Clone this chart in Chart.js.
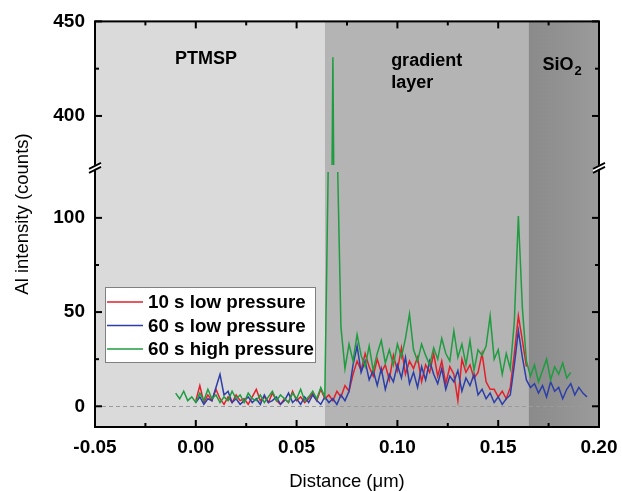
<!DOCTYPE html>
<html>
<head>
<meta charset="utf-8">
<script src="https://cdn.jsdelivr.net/npm/chart.js@4.4.0/dist/chart.umd.min.js"></script>
<style>
  html, body { margin: 0; padding: 0; background: #fff; }
  canvas { display: block; }
</style>
</head>
<body>
<canvas id="alChart" width="622" height="491"></canvas>
<script>
// sampling of the depth profiles (um)
const step = 0.002;
const redStart = 0.000;
const blueStart = 0.000;
const greenStart = -0.010;

// Al counts
const red10sLow = [
  3, 11, 2, 6, 3, 9, 4, 1, 5, 2, 6, 3, 4, 1, 5, 9, 3, 5, 2, 7,
  3, 1, 4, 2, 8, 3, 5, 2, 4, 7, 3, 9, 4, 6, 3, 8, 5, 11, 8, 17,
  24, 19, 28, 21, 16, 25, 18, 22, 14, 27, 19, 31, 17, 24, 20, 26, 13, 22, 18, 28,
  16, 24, 12, 21, 17, 3, 25, 18, 22, 15, 18, 28, 13, 9, 9, 5, 8, 4, 10, 28,
  48, 35, 21
];
const blue60sLow = [
  2, 5, 1, 4, 3, 10, 17, 6, 8, 2, 4, 1, 3, 5, 2, 4, 1, 6, 2, 3,
  5, 1, 3, 7, 2, 4, 1, 5, 2, 6, 3, 1, 5, 2, 4, 1, 6, 3, 8, 22,
  32, 18, 24, 14, 19, 11, 20, 9, 17, 13, 22, 15, 26, 12, 18, 10, 21, 14, 24, 17,
  12, 20, 9, 16, 13, 19, 8, 15, 11, 17, 6, 9, 4, 7, 2, 5, 1, 4, 6, 22,
  40, 26, 14, 10, 12, 7, 11, 5, 13, 8, 10, 4, 9, 12, 6, 10, 7, 5
];
const green60sHigh = [
  7, 4, 8, 3, 5, 2, 7, 3, 9, 4, 6, 2, 5, 3, 8, 4, 6, 2, 7, 4,
  3, 6, 2, 5, 8, 3, 6, 4, 2, 7, 4, 9, 3, 5, 8, 4, 10, 5, 150, 431,
  145, 42, 20, 33, 24, 38, 27, 21, 32, 19, 28, 35, 23, 30, 22, 33, 26, 36, 49, 30,
  24, 33, 27, 22, 31, 25, 36, 28, 24, 40, 26, 33, 22, 35, 19, 30, 27, 32, 48, 25,
  30, 17, 28, 20, 45, 101, 52, 24, 16, 22, 13, 19, 25, 14, 21, 17, 23, 15, 18
];

const seriesLabels = ['10 s low pressure', '60 s low pressure', '60 s high pressure'];
const seriesColors = ['#e3202a', '#2c3ea8', '#1f9c40'];

// layer boundaries along the distance axis
const regionEdges = [-0.05, 0.064, 0.165, 0.20];
const regionColors = ['#dadada', '#b4b4b4', '#8d8d8d'];

const xTicks = [-0.05, 0, 0.05, 0.10, 0.15, 0.20];
const xMinor = [-0.025, 0.025, 0.075, 0.125, 0.175];
const yLowTicks = [0, 50, 100];
const yLowMinor = [25, 75];
const yHighTicks = [400, 450];
const yHighMinor = [425];

const FONT = '"Liberation Sans", Arial, Helvetica, sans-serif';

function toPoints(start, values) {
  return values.map((v, i) => ({ x: +(start + i * step).toFixed(3), y: v }));
}

function lineSet(label, color, data, axis, order) {
  return {
    label: label,
    data: data,
    yAxisID: axis,
    borderColor: color,
    borderWidth: 1.5,
    pointRadius: 0,
    tension: 0,
    fill: false,
    order: order,
  };
}

const breakPlugin = {
  id: 'brokenAxis',
  beforeDatasetsDraw(chart) {
    const { ctx, chartArea: a, scales } = chart;
    const x = scales.x;
    ctx.save();
    for (let i = 0; i < 3; i++) {
      const x0 = x.getPixelForValue(regionEdges[i]);
      const x1 = x.getPixelForValue(regionEdges[i + 1]);
      if (i === 2) {
        const g = ctx.createLinearGradient(x0, 0, x1, 0);
        g.addColorStop(0, '#8a8a8a');
        g.addColorStop(1, '#9b9b9b');
        ctx.fillStyle = g;
      } else {
        ctx.fillStyle = regionColors[i];
      }
      ctx.fillRect(x0, a.top, x1 - x0, a.bottom - a.top);
    }
    // dashed zero line
    const y0 = Math.round(scales.y.getPixelForValue(0)) + 0.5;
    ctx.strokeStyle = '#9a9a9a';
    ctx.lineWidth = 1;
    ctx.setLineDash([4, 3]);
    ctx.beginPath();
    ctx.moveTo(a.left, y0);
    ctx.lineTo(a.right, y0);
    ctx.stroke();
    ctx.restore();
  },
  beforeDatasetDraw(chart, args) {
    const { ctx, chartArea: a, scales } = chart;
    const s = scales[args.meta.yAxisID];
    let top = s.top, bottom = s.bottom;
    if (args.meta.yAxisID === 'y') top += 3;
    else bottom -= 4;
    ctx.save();
    ctx.beginPath();
    ctx.rect(a.left, top, a.right - a.left, bottom - top);
    ctx.clip();
  },
  afterDatasetDraw(chart) {
    chart.ctx.restore();
  },
  afterDraw(chart) {
    const { ctx, chartArea: a, scales } = chart;
    const x = scales.x, yl = scales.y, yh = scales.y2;
    ctx.save();

    // frame
    ctx.strokeStyle = '#000';
    ctx.lineWidth = 2;
    ctx.strokeRect(a.left, a.top, a.right - a.left, a.bottom - a.top);

    // inward ticks
    const tick = (x1, y1, x2, y2) => {
      ctx.beginPath(); ctx.moveTo(x1, y1); ctx.lineTo(x2, y2); ctx.stroke();
    };
    xTicks.forEach(v => {
      const p = x.getPixelForValue(v);
      tick(p, a.bottom, p, a.bottom - 7);
      tick(p, a.top, p, a.top + 7);
    });
    xMinor.forEach(v => {
      const p = x.getPixelForValue(v);
      tick(p, a.bottom, p, a.bottom - 4);
      tick(p, a.top, p, a.top + 4);
    });
    const yTick = (s, v, len) => {
      const p = s.getPixelForValue(v);
      tick(a.left, p, a.left + len, p);
      tick(a.right, p, a.right - len, p);
    };
    yLowTicks.forEach(v => yTick(yl, v, 7));
    yLowMinor.forEach(v => yTick(yl, v, 4));
    yHighTicks.forEach(v => yTick(yh, v, 7));
    yHighMinor.forEach(v => yTick(yh, v, 4));

    // axis break marks
    const yb = yl.top;
    [a.left, a.right].forEach(xb => {
      ctx.fillStyle = '#fff';
      ctx.beginPath();
      ctx.moveTo(xb - 6, yb + 3);
      ctx.lineTo(xb + 6, yb - 3);
      ctx.lineTo(xb + 6, yb - 7);
      ctx.lineTo(xb - 6, yb - 1);
      ctx.closePath();
      ctx.fill();
      ctx.lineWidth = 1.8;
      tick(xb - 6, yb + 4, xb + 6, yb - 2);
      tick(xb - 6, yb, xb + 6, yb - 6);
    });

    // axis titles
    ctx.fillStyle = '#000';
    ctx.font = '18.5px ' + FONT;
    ctx.textAlign = 'center';
    ctx.textBaseline = 'alphabetic';
    ctx.fillText('Distance (\u03bcm)', (a.left + a.right) / 2, 487);
    ctx.save();
    ctx.translate(28, 214);
    ctx.rotate(-Math.PI / 2);
    ctx.fillText('Al intensity (counts)', 0, 0);
    ctx.restore();

    // layer names
    ctx.font = 'bold 18px ' + FONT;
    const mid = i => x.getPixelForValue((regionEdges[i] + regionEdges[i + 1]) / 2);
    ctx.fillText('PTMSP', mid(0) - 4, a.top + 43);
    ctx.textAlign = 'left';
    const gl = mid(1) - ctx.measureText('gradient').width / 2;
    ctx.fillText('gradient', gl, a.top + 45);
    ctx.fillText('layer', gl, a.top + 67);
    const w1 = ctx.measureText('SiO').width;
    ctx.font = 'bold 13px ' + FONT;
    const w2 = ctx.measureText('2').width;
    const sx = mid(2) - (w1 + w2) / 2 - 2;
    ctx.fillText('2', sx + w1 + 1, a.top + 54);
    ctx.font = 'bold 18px ' + FONT;
    ctx.fillText('SiO', sx, a.top + 49);

    // legend box
    const lx = a.left + 10, ly = 287, lw = 210, lh = 75;
    ctx.fillStyle = '#fff';
    ctx.fillRect(lx, ly, lw, lh);
    ctx.strokeStyle = '#808080';
    ctx.lineWidth = 1;
    ctx.strokeRect(lx + 0.5, ly + 0.5, lw, lh);
    ctx.font = 'bold 18.8px ' + FONT;
    ctx.textBaseline = 'middle';
    ctx.textAlign = 'left';
    for (let i = 0; i < 3; i++) {
      const ds = chart.data.datasets[i];
      const ry = ly + 15 + i * 23.5;
      ctx.strokeStyle = ds.borderColor;
      ctx.lineWidth = 1.5;
      tick(lx + 2, ry, lx + 38, ry);
      ctx.fillStyle = '#000';
      ctx.fillText(ds.label, lx + 43, ry + 1);
    }
    ctx.restore();
  }
};

const tickFont = { family: FONT, size: 19, weight: 'bold' };

new Chart(document.getElementById('alChart'), {
  type: 'line',
  data: {
    datasets: [
      lineSet(seriesLabels[0], seriesColors[0], toPoints(redStart, red10sLow), 'y', 3),
      lineSet(seriesLabels[1], seriesColors[1], toPoints(blueStart, blue60sLow), 'y', 2),
      lineSet(seriesLabels[2], seriesColors[2], toPoints(greenStart, green60sHigh), 'y', 1),
      lineSet(seriesLabels[2], seriesColors[2], toPoints(greenStart, green60sHigh), 'y2', 1),
    ],
  },
  options: {
    responsive: false,
    animation: false,
    devicePixelRatio: 1,
    layout: { padding: { top: 20, right: 23, left: 0, bottom: 0 } },
    plugins: { legend: { display: false }, tooltip: { enabled: false } },
    scales: {
      x: {
        type: 'linear',
        min: -0.05,
        max: 0.20,
        grid: { display: false, drawTicks: false },
        border: { display: false },
        afterBuildTicks: s => { s.ticks = xTicks.map(v => ({ value: v })); },
        afterFit: s => { s.height = 64; s.paddingLeft = 0; s.paddingRight = 0; },
        ticks: {
          font: tickFont, color: '#000', padding: 9, maxRotation: 0,
          callback: v => Number(v).toFixed(2),
        },
      },
      y: {
        type: 'linear',
        position: 'left',
        stack: 'counts',
        stackWeight: 259,
        min: -11,
        max: 126,
        grid: { display: false, drawTicks: false },
        border: { display: false },
        afterBuildTicks: s => { s.ticks = yLowTicks.map(v => ({ value: v })); },
        afterFit: s => { s.width = 95; },
        ticks: { font: tickFont, color: '#000', padding: 10 },
      },
      y2: {
        type: 'linear',
        position: 'left',
        stack: 'counts',
        stackWeight: 148,
        min: 372,
        max: 450,
        grid: { display: false, drawTicks: false },
        border: { display: false },
        afterBuildTicks: s => { s.ticks = yHighTicks.map(v => ({ value: v })); },
        afterFit: s => { s.width = 95; },
        ticks: { font: tickFont, color: '#000', padding: 10 },
      },
    },
  },
  plugins: [breakPlugin],
});
</script>
</body>
</html>
